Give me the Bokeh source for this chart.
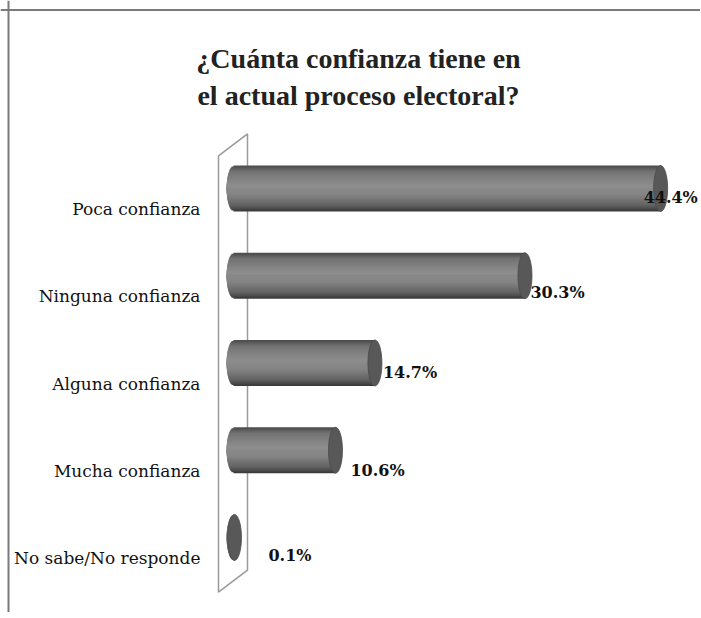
import numpy as np
from bokeh.plotting import figure
from bokeh.models import Range1d, Span, ColumnDataSource
from bokeh.core.properties import value
from bokeh.embed import file_html
from bokeh.resources import INLINE

# ---------------- data ----------------
categories = ["Poca confianza", "Ninguna confianza", "Alguna confianza",
              "Mucha confianza", "No sabe/No responde"]
values = [44.4, 30.3, 14.7, 10.6, 0.1]
value_labels = ["44.4%", "30.3%", "14.7%", "10.6%", "0.1%"]
title_lines = ["¿Cuánta confianza tiene en", "el actual proceso electoral?"]

# data-label placement (screen px, relative to bar end / centre)
label_dx = [-17, 5.5, 8, 15, 34]
label_dy = [9, 16.7, 9.7, 20.7, 17.5]

# ---------------- geometry ----------------
W, H = 700, 612
PX_PER_PCT = 9.62      # px per percentage point
X0 = 233.0             # canvas px of value 0
Y0 = 188.0             # canvas px of first category centre
STEP = 87.25           # px between categories


def dx(px):
    return px / PX_PER_PCT


def dy(px):
    return px / STEP


def cx2x(cx):
    return (cx - X0) / PX_PER_PCT


def cy2y(cy):
    return (cy - Y0) / STEP


idx = list(range(len(categories)))

p = figure(width=W, height=H,
           x_range=Range1d(-X0 / PX_PER_PCT, (W - X0) / PX_PER_PCT),
           y_range=Range1d((H - Y0) / STEP, -Y0 / STEP),
           output_backend="svg", toolbar_location=None,
           x_axis_location=None, y_axis_location=None,
           min_border=0, outline_line_color=None,
           background_fill_color="white", border_fill_color="white")
p.grid.visible = False
p.styles = {"overflow": "hidden"}

# chart border (top and left visible)
p.add_layout(Span(location=cx2x(8), dimension="height",
                  line_color="#7a7a7a", line_width=2))
p.add_layout(Span(location=cy2y(9.5), dimension="width",
                  line_color="#7a7a7a", line_width=2))

# 3-D wall
skew = dy(11)
wl, wr = -dx(15), dx(14)
ytop, ybot = -0.5, len(categories) - 0.5
p.patch([wl, wl, wr, wr],
        [ytop + skew, ybot + skew, ybot - skew, ytop - skew],
        fill_color="white", line_color="#9a9a9a", line_width=1.5)

# cylinder bodies: nested shaded slabs (top half grows down to centre,
# bottom half grows up to centre) so that no seams show
N = 24
hh = dy(23)
a = dx(7)
stops_t = np.array([-1.0, -0.75, -0.15, 0.3, 0.75, 1.0])
stops_v = np.array([0x4c, 0x74, 0x8e, 0x84, 0x62, 0x3a])


def grey(t):
    g = int(np.interp(t, stops_t, stops_v))
    return "#%02x%02x%02x" % (g, g, g)


ys, hs, ls, rs, cs = [], [], [], [], []
for i, v in zip(idx, values):
    for k in range(N):
        t = -1 + k / N
        ys.append(i + (t / 2) * hh)
        hs.append(-t * hh)
        ls.append(-a * np.sqrt(max(0.0, 1 - t * t)))
        rs.append(v)
        cs.append(grey(t))
    for k in range(N):
        t = 1 - k / N
        ys.append(i + (t / 2) * hh)
        hs.append(t * hh)
        ls.append(-a * np.sqrt(max(0.0, 1 - t * t)))
        rs.append(v)
        cs.append(grey(t))
strips = ColumnDataSource(dict(y=ys, h=hs, l=ls, r=rs, c=cs))
p.hbar(y="y", height="h", left="l", right="r", fill_color="c",
       line_color=None, source=strips)

# front caps
p.ellipse(x=values, y=idx, width=14, height=46,
          width_units="screen", height_units="screen",
          fill_color="#585858", line_color="#4a4a4a", line_width=0.8)

# category labels
p.text(x=[0] * len(idx), y=idx, text=categories, x_offset=-33, y_offset=20.5,
       text_align="right", text_baseline="alphabetic",
       text_font=value("DejaVu Serif"), text_font_size="17px",
       text_color="#111111")

# value labels
vsrc = ColumnDataSource(dict(x=values, y=idx, t=value_labels,
                             xo=label_dx, yo=label_dy))
p.text(x="x", y="y", text="t", x_offset="xo", y_offset="yo", source=vsrc,
       text_align="left", text_baseline="alphabetic",
       text_font=value("DejaVu Serif"), text_font_style="bold",
       text_font_size="16px", text_color="#111111")

# title
p.text(x=[cx2x(358)] * 2, y=[cy2y(58), cy2y(95)], text=title_lines,
       text_align="center", text_baseline="alphabetic",
       text_font=value("Liberation Serif"), text_font_style="bold",
       text_font_size="28px", text_color="#222222")

with open("out.html", "w", encoding="utf-8") as f:
    f.write(file_html(p, INLINE))
